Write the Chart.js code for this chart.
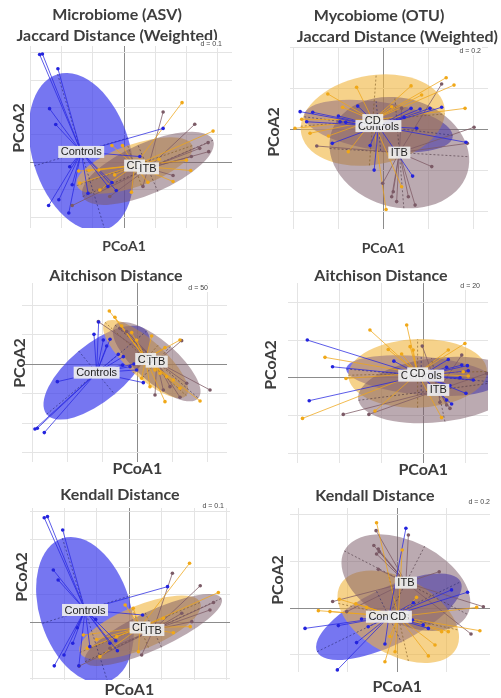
<!DOCTYPE html>
<html>
<head>
<meta charset="utf-8">
<script src="https://cdn.jsdelivr.net/npm/chart.js@4.4.1/dist/chart.umd.min.js"></script>
<style>
  html, body { margin:0; padding:0; background:#fff; }
  #wrap { position:relative; width:501px; height:698px; overflow:hidden; }
  #wrap canvas { position:absolute; }
</style>
</head>
<body>
<div id="wrap"></div>
<script>
// group order: Controls, CD, ITB
var groupNames = ['Controls', 'CD', 'ITB'];

// ---- Microbiome (ASV) / Jaccard weighted ----
var ctrl1 = [[-0.272,0.394],[-0.263,0.396],[-0.213,0.342],[-0.240,0.196],[-0.220,0.138],[0.126,0.124],[0.051,0.021],[-0.175,-0.016],[-0.167,-0.082],[-0.210,-0.137],[-0.243,-0.158],[-0.178,-0.185],[-0.116,-0.113],[-0.052,-0.088],[-0.039,-0.074],[-0.025,-0.103]];
var cd1 = [[0.187,0.218],[0.287,0.114],[-0.039,0.061],[-0.005,0.061],[0.113,0.011],[0.215,-0.030],[0.158,-0.070],[0.077,-0.073],[0.024,-0.109],[-0.081,-0.028],[-0.113,-0.030],[-0.146,-0.032],[-0.030,-0.046],[-0.078,-0.101],[-0.143,-0.076],[0.201,0.008]];
var itb1 = [[0.126,0.184],[0.228,0.139],[0.271,0.072],[0.273,0.039],[0.158,-0.048],[-0.167,-0.158],[0.217,0.021],[0.244,0.051],[-0.046,-0.125],[0.061,-0.088]];
var cent1 = [[-0.138,0.038],[0.034,-0.012],[0.077,-0.022]];
var major1 = [[0.076,-0.284],[0.186,0.073],[0.21,0.103]];
var minor1 = [[-0.151,-0.051],[-0.022,0.073],[-0.032,0.085]];

// ---- Mycobiome (OTU) / Jaccard weighted ----
var ctrl2 = [[-0.370,0.086],[-0.314,0.083],[-0.341,0.037],[-0.200,0.065],[-0.193,0.037],[-0.114,0.113],[-0.167,0.034],[-0.227,-0.068],[-0.059,-0.079],[-0.041,-0.198],[0.130,-0.227],[0.123,0.102],[0.163,0.099],[0.207,0.102],[0.259,0.107],[0.148,0.005],[0.092,0.058],[0.367,-0.063]];
var cd2 = [[0.279,0.251],[0.314,0.215],[0.123,0.211],[-0.119,0.204],[-0.247,0.172],[-0.363,0.049],[-0.393,0.005],[-0.326,-0.019],[-0.244,-0.032],[-0.156,-0.109],[0.012,-0.389],[0.081,-0.279],[0.363,0.102],[0.170,0.167],[-0.181,0.107],[0.037,0.110]];
var itb2 = [[0.259,0.220],[0.403,0.010],[0.373,-0.068],[-0.296,-0.081],[-0.003,-0.262],[0.037,-0.327],[0.059,-0.351],[0.111,-0.327],[0.141,-0.368],[0.044,-0.303],[0.081,0.102],[0.215,-0.181]];
var cent2 = [[-0.022,0.016],[-0.047,0.045],[0.071,-0.113]];
var major2 = [[0.33,-0.045],[0.32,0.03],[0.31,-0.02]];
var minor2 = [[-0.01,0.12],[0.015,0.22],[-0.02,0.27]];

// ---- Microbiome / Aitchison ----
var ctrl3 = [[-146.9,-109.6],[-143.5,-108.5],[-133.5,-115.8],[-114.8,-29.4],[-62.2,50.8],[-55.5,71.8],[-48.8,41.2],[-39.2,42.4],[-44.0,31.1],[-27.3,16.9],[-21.1,-1.1],[-10.5,-4.0],[-4.8,0.6],[-1.0,-9.6],[8.6,-31.1],[-20.1,13.0]];
var cd3 = [[-40.2,90.4],[-32.1,79.7],[-22.5,65.0],[-8.1,53.7],[-1.0,41.2],[20.6,48.0],[39.7,28.2],[61.2,41.2],[25.4,-9.6],[32.5,-15.3],[42.1,-20.9],[51.7,-26.6],[61.2,-40.7],[39.7,-63.3],[90.0,-62.1],[18.2,-37.9],[6.2,-23.7]];
var itb3 = [[-56.0,72.3],[63.6,40.1],[104.3,-43.5],[61.2,-55.9],[25.4,-52.0],[46.9,-37.9],[70.8,-32.2],[-15.3,55.4],[-24.9,61.0],[37.3,-43.5]];
var cent3 = [[-58.4,-14.1],[12.0,9.0],[27.8,4.5]];
var major3 = [[-71.8,-70.6],[58.4,-62.1],[59.8,-62.1]];
var minor3 = [[25.8,-36.7],[-17.7,-23.2],[-19.6,-26.0]];

// ---- Mycobiome / Aitchison ----
var ctrl4 = [[-55.2,20.0],[-54.3,-12.2],[-43.2,5.8],[-14.0,8.8],[11.9,9.7],[11.1,5.5],[18.3,6.7],[21.0,6.4],[21.4,3.7],[17.5,0],[23.8,-1.2],[20.3,-8.3],[12.7,-4.2],[11.1,-11.9],[13.5,-14.0]];
var cd4 = [[-7.9,28.0],[-25.4,25.3],[-46.8,10.8],[-57.5,-21.6],[-36.8,-0.4],[-16.7,15.0],[-10.3,12.6],[-4.8,14.7],[11.9,14.7],[19.8,18.2],[19.0,3.2],[21.4,0.9],[-23.0,-17.7],[8.7,-21.2],[-6.3,16.5]];
var itb4 = [[-0.5,16.8],[18.3,12.0],[-38.1,-19.5],[-25.9,-19.5],[7.9,-13.1],[11.1,-14.5],[12.7,-16.3],[30.2,2.3]];
var cent4 = [[-1.0,1.1],[-2.7,2.3],[7.1,-6.5]];
var major4 = [[35.7,-3.5],[33,1],[38,5.5]];
var minor4 = [[0,10.3],[0,18.2],[-3.2,16.8]];

// ---- Microbiome / Kendall ----
var ctrl5 = [[-0.263,0.378],[-0.253,0.382],[-0.206,0.334],[-0.235,0.190],[-0.220,0.154],[0.118,0.130],[0.041,0.028],[-0.161,-0.018],[-0.175,-0.074],[-0.202,-0.116],[-0.232,-0.155],[-0.156,-0.155],[-0.122,-0.086],[-0.060,-0.074],[-0.042,-0.065],[-0.037,-0.101],[-0.104,0.012]];
var cd5 = [[0.186,0.214],[0.275,0.109],[-0.013,0.064],[0.012,0.052],[0.105,0.016],[0.188,-0.014],[0.136,-0.036],[0.064,-0.038],[0.028,-0.104],[-0.101,-0.060],[-0.130,-0.092],[-0.142,-0.044],[-0.039,-0.050],[-0.091,-0.122]];
var itb5 = [[0.133,0.178],[0.219,0.133],[0.260,0.073],[0.249,0.046],[0.193,0.004],[0.038,-0.116],[-0.155,-0.156],[-0.060,-0.092],[0.162,0.034]];
var cent5 = [[-0.137,0.046],[0.033,-0.017],[0.074,-0.026]];
var major5 = [[0.070,-0.258],[0.186,0.090],[0.211,0.114]];
var minor5 = [[-0.134,-0.049],[-0.026,0.072],[-0.025,0.062]];

// ---- Mycobiome / Kendall ----
var ctrl6 = [[0.035,0.343],[0.220,0.079],[0.285,0.069],[0.065,0.024],[-0.374,-0.086],[-0.239,-0.074],[-0.145,-0.046],[-0.165,-0.147],[-0.118,-0.079],[-0.050,-0.153],[0.062,-0.050],[0.105,-0.071],[0.126,-0.086],[-0.243,-0.264]];
var cd6 = [[-0.084,0.367],[0.020,0.250],[-0.320,-0.010],[-0.273,-0.014],[-0.235,0.039],[-0.168,0.019],[-0.124,0.004],[0.078,0.047],[0.180,-0.100],[0.207,-0.100],[0.335,-0.096],[0.322,0.004],[0.153,-0.157],[0.126,-0.204],[-0.050,-0.229],[-0.009,-0.186],[-0.030,-0.121]];
var itb6 = [[-0.086,0.333],[-0.095,0.269],[-0.077,0.254],[-0.073,0.243],[-0.084,0.233],[-0.077,0.167],[0.170,0.157],[-0.262,0.029],[-0.205,-0.014],[0.349,0.007],[0.299,-0.110],[0.045,0.314]];
var cent6 = [[-0.034,-0.036],[0.004,-0.036],[0.035,0.110]];
var major6 = [[0.291,0.150],[0.243,-0.057],[0.250,-0.136]];
var minor6 = [[0.050,-0.109],[-0.041,0.19],[0.076,0.156]];

var fillColors = ['rgba(60,60,235,0.7)', 'rgba(240,180,60,0.6)', 'rgba(120,85,100,0.5)'];
var lineColors = ['rgba(40,40,225,0.85)', 'rgba(238,165,25,0.85)', 'rgba(125,90,100,0.85)'];
var pointColors = ['#2323dd', '#f0a818', '#7b5a66'];
var axisColors = ['rgba(40,40,110,0.75)', 'rgba(120,85,30,0.75)', 'rgba(70,50,60,0.75)'];
var titleColor = '#3d3d3d';

// box = [left, top, width, height] of each canvas on the page
var panels = [
  {box:[0,0,250,255], pad:[2,18], title:['Microbiome (ASV)','Jaccard Distance (Weighted)'], titleLH:21, titlePad:[4,0],
   wy:28, hx:27, xr:[-0.303,0.348], yr:[-0.24,0.425], d:0.1, dText:'d = 0.1', dPos:[-10,-2],
   xLab:{dy:18,size:14}, yLab:[19,128], pts:[ctrl1,cd1,itb1], cent:cent1, major:major1, minor:minor1},
  {box:[252,0,248,255], pad:[8,2], title:'Mycobiome (OTU)', subtitle:'Jaccard Distance (Weighted)', titleLH:21, titlePad:[5,0],
   wy:30, hx:26, rightGap:10, xr:[-0.415,0.465], yr:[-0.484,0.40], d:0.2, dText:'d = 0.2', dPos:[-7,4],
   xLab:{dy:19,size:14}, yLab:[274,132], pts:[ctrl2,cd2,itb2], cent:cent2, major:major2, minor:minor2},
  {box:[0,255,250,225], pad:[5,23], title:'Aitchison Distance', titleLH:14, titlePad:[14,0],
   wy:17, hx:18, xr:[-165.5,128.7], yr:[-165.6,137.8], d:50, dText:'d = 50', dPos:[-19,5],
   xLab:{dy:7,size:16}, yLab:[20,363], pts:[ctrl3,cd3,itb3], cent:cent3, major:major3, minor:minor3},
  {box:[252,255,248,225], pad:[22,12], title:'Aitchison Distance', titleLH:14, titlePad:[14,0],
   wy:14, hx:17, xr:[-64.4,30.8], yr:[-45.3,50.3], d:20, dText:'d = 20', dPos:[-8,3],
   xLab:{dy:7,size:16}, yLab:[271,365], pts:[ctrl4,cd4,itb4], cent:cent4, major:major4, minor:minor4},
  {box:[0,480,250,218], pad:[10,20], title:'Kendall Distance', titleLH:14, titlePad:[8,6],
   wy:20, hx:18, xr:[-0.307,0.311], yr:[-0.206,0.413], d:0.1, dText:'d = 0.1', dPos:[-6,-2],
   xLab:{dy:10,size:16}, yLab:[22,577], pts:[ctrl5,cd5,itb5], cent:cent5, major:major5, minor:minor5},
  {box:[252,480,249,218], pad:[8,11], title:'Kendall Distance', titleLH:14, titlePad:[9,5],
   wy:30, hx:26, xr:[-0.435,0.376], yr:[-0.273,0.43], d:0.2, dText:'d = 0.2', dPos:[0,-6],
   xLab:{dy:15,size:16}, yLab:[278,580], pts:[ctrl6,cd6,itb6], cent:cent6, major:major6, minor:minor6}
];

function gridColor(ctx){
    if(ctx.tick && Math.abs(ctx.tick.value) < 1e-9){
        return '#8c8c8c';
    }
    return '#e4e4e4';
}

// ellipses, centroid labels and axis texts for one panel
function pcoaPlugin(p){
    return {
        id: 'pcoa',
        beforeDatasetsDraw: function(chart){
            var ctx = chart.ctx, xs = chart.scales.x, ys = chart.scales.y, a = chart.chartArea;
            var axes = [];
            ctx.save();
            ctx.beginPath();
            ctx.rect(a.left, a.top, a.right - a.left, a.bottom - a.top);
            ctx.clip();
            for(var g = 0; g < 3; g++){
                var c = p.cent[g], u = p.major[g], v = p.minor[g];
                var cx = xs.getPixelForValue(c[0]), cy = ys.getPixelForValue(c[1]);
                var ux = xs.getPixelForValue(c[0] + u[0]) - cx, uy = ys.getPixelForValue(c[1] + u[1]) - cy;
                var vx = xs.getPixelForValue(c[0] + v[0]) - cx, vy = ys.getPixelForValue(c[1] + v[1]) - cy;
                ctx.save();
                ctx.transform(ux, uy, vx, vy, cx, cy);
                ctx.beginPath();
                ctx.arc(0, 0, 1, 0, Math.PI * 2);
                ctx.restore();
                ctx.fillStyle = fillColors[g];
                ctx.fill();
                axes.push([cx, cy, ux, uy, vx, vy]);
            }
            ctx.setLineDash([2, 2]);
            ctx.lineWidth = 0.8;
            axes.forEach(function(e, g){
                ctx.strokeStyle = axisColors[g];
                ctx.beginPath();
                ctx.moveTo(e[0] - e[2], e[1] - e[3]);
                ctx.lineTo(e[0] + e[2], e[1] + e[3]);
                ctx.moveTo(e[0] - e[4], e[1] - e[5]);
                ctx.lineTo(e[0] + e[4], e[1] + e[5]);
                ctx.stroke();
            });
            ctx.restore();
        },
        afterDatasetsDraw: function(chart){
            var ctx = chart.ctx, xs = chart.scales.x, ys = chart.scales.y;
            ctx.save();
            ctx.font = '11px "Liberation Sans", Arial, sans-serif';
            ctx.textAlign = 'center';
            ctx.textBaseline = 'middle';
            for(var g = 0; g < 3; g++){
                var px = xs.getPixelForValue(p.cent[g][0]), py = ys.getPixelForValue(p.cent[g][1]);
                var w = ctx.measureText(groupNames[g]).width;
                ctx.fillStyle = 'rgba(238,238,238,0.92)';
                ctx.fillRect(px - w / 2 - 2.5, py - 6, w + 5, 12);
                ctx.fillStyle = '#1e1e1e';
                ctx.fillText(groupNames[g], px, py + 0.5);
            }
            ctx.restore();
        },
        afterDraw: function(chart){
            var ctx = chart.ctx, xs = chart.scales.x, a = chart.chartArea;
            ctx.save();
            // d = grid size
            ctx.font = '7px "Liberation Sans", Arial, sans-serif';
            ctx.textAlign = 'right';
            ctx.textBaseline = 'middle';
            var dw = ctx.measureText(p.dText).width;
            var dx = a.right + p.dPos[0], dy = a.top + p.dPos[1];
            ctx.fillStyle = '#ffffff';
            ctx.fillRect(dx - dw - 1, dy - 4, dw + 2, 8);
            ctx.fillStyle = '#444';
            ctx.fillText(p.dText, dx, dy);
            // axis names
            ctx.fillStyle = titleColor;
            ctx.textAlign = 'center';
            ctx.font = 'bold ' + p.xLab.size + 'px Lato, sans-serif';
            ctx.fillText('PCoA1', xs.getPixelForValue(0), a.bottom + p.xLab.dy);
            ctx.font = 'bold 16px Lato, sans-serif';
            ctx.translate(p.yLab[0] - p.box[0], p.yLab[1] - p.box[1]);
            ctx.rotate(-Math.PI / 2);
            ctx.fillText('PCoA2', 0, 0);
            ctx.restore();
        }
    };
}

function drawPanel(p){
    var cv = document.createElement('canvas');
    cv.width = p.box[2];
    cv.height = p.box[3];
    cv.style.left = p.box[0] + 'px';
    cv.style.top = p.box[1] + 'px';
    document.getElementById('wrap').appendChild(cv);

    var datasets = [];
    for(var g = 0; g < 3; g++){
        var c = p.cent[g];
        var star = [];
        p.pts[g].forEach(function(pt){
            star.push({x: c[0], y: c[1]}, {x: pt[0], y: pt[1]}, {x: NaN, y: NaN});
        });
        datasets.push({
            label: groupNames[g] + ' star',
            data: star,
            showLine: true,
            borderColor: lineColors[g],
            borderWidth: 0.9,
            pointRadius: 0,
            order: 2
        });
        datasets.push({
            label: groupNames[g],
            data: p.pts[g].map(function(pt){ return {x: pt[0], y: pt[1]}; }),
            pointRadius: 1.8,
            pointBackgroundColor: pointColors[g],
            pointBorderWidth: 0,
            order: 1
        });
    }

    var titleFont = {family: 'Lato', size: 16, weight: 'bold', lineHeight: p.titleLH / 16};
    var scales = {
        x: {
            type: 'linear', position: 'bottom', min: p.xr[0], max: p.xr[1],
            ticks: {display: false, stepSize: p.d, includeBounds: false},
            grid: {color: gridColor, drawTicks: false, lineWidth: 1},
            border: {display: false},
            afterFit: function(s){ s.height = p.hx; }
        },
        y: {
            type: 'linear', position: 'left', min: p.yr[0], max: p.yr[1],
            ticks: {display: false, stepSize: p.d, includeBounds: false},
            grid: {color: gridColor, drawTicks: false, lineWidth: 1},
            border: {display: false},
            afterFit: function(s){ s.width = p.wy; }
        }
    };
    if(p.rightGap){
        scales.yr = {
            type: 'linear', position: 'right',
            ticks: {display: false},
            grid: {display: false, drawTicks: false},
            border: {display: false},
            afterFit: function(s){ s.width = p.rightGap; }
        };
    }

    new Chart(cv.getContext('2d'), {
        type: 'scatter',
        data: {datasets: datasets},
        options: {
            responsive: false,
            animation: false,
            events: [],
            layout: {padding: {left: p.pad[0], right: p.pad[1], top: 0, bottom: 0}},
            scales: scales,
            plugins: {
                legend: {display: false},
                tooltip: {enabled: false},
                title: {
                    display: true, text: p.title, color: titleColor, font: titleFont,
                    padding: {top: p.titlePad[0], bottom: p.titlePad[1]}
                },
                subtitle: {
                    display: !!p.subtitle, text: p.subtitle || '', align: 'end', color: titleColor, font: titleFont,
                    padding: {top: 0, bottom: 0}
                }
            }
        },
        plugins: [pcoaPlugin(p)]
    });
}

panels.forEach(drawPanel);
</script>
</body>
</html>
